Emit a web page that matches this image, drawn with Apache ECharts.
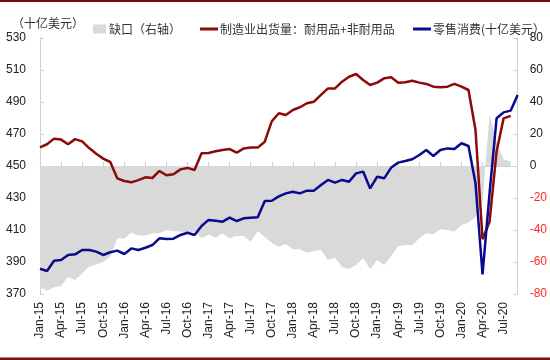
<!DOCTYPE html>
<html><head><meta charset="utf-8">
<script src="https://cdn.jsdelivr.net/npm/echarts@6/dist/echarts.min.js"></script>
<style>html,body{margin:0;padding:0;background:#fff}#c{width:550px;height:360px}</style>
</head><body><div id="c"></div>
<script>
var categories = ['Jan-15','Feb-15','Mar-15','Apr-15','May-15','Jun-15','Jul-15','Aug-15','Sep-15','Oct-15','Nov-15','Dec-15',
'Jan-16','Feb-16','Mar-16','Apr-16','May-16','Jun-16','Jul-16','Aug-16','Sep-16','Oct-16','Nov-16','Dec-16',
'Jan-17','Feb-17','Mar-17','Apr-17','May-17','Jun-17','Jul-17','Aug-17','Sep-17','Oct-17','Nov-17','Dec-17',
'Jan-18','Feb-18','Mar-18','Apr-18','May-18','Jun-18','Jul-18','Aug-18','Sep-18','Oct-18','Nov-18','Dec-18',
'Jan-19','Feb-19','Mar-19','Apr-19','May-19','Jun-19','Jul-19','Aug-19','Sep-19','Oct-19','Nov-19','Dec-19',
'Jan-20','Feb-20','Mar-20','Apr-20','May-20','Jun-20','Jul-20','Aug-20','Sep-20'];

var shipments = [461.7,463.6,467.1,466.5,463.6,466.8,465.4,461.2,457.7,454.6,452.5,442.3,
440.6,439.8,441.2,442.9,442.5,446.9,444.2,444.8,447.9,448.8,447.5,457.9,
458.1,459.2,460.0,460.6,458.3,461.0,461.5,461.5,465.2,478.0,483.0,481.9,
485.0,486.7,489.2,490.2,494.4,498.5,498.5,502.7,505.8,507.5,503.8,500.6,
502.1,504.8,505.4,502.1,502.3,503.3,502.1,501.3,499.6,499.2,499.6,501.3,
499.6,497.5,472.5,404.2,415.2,459.0,479.8,481.3,null];

var retail = [385.8,384.4,390.8,391.2,394.4,394.8,397.5,397.5,396.5,394.4,396.1,397.1,
395.0,398.5,397.5,398.9,400.6,404.8,404.4,404.6,406.9,408.3,406.9,412.5,
416.3,415.8,415.2,417.7,415.6,417.3,417.7,417.9,428.1,428.3,431.0,432.9,
433.9,432.9,434.6,434.6,438.1,441.3,439.6,441.3,440.2,445.4,446.5,436.0,
443.3,442.3,449.0,452.1,453.1,454.2,456.9,460.0,456.3,460.0,461.0,460.6,
464.2,462.5,439.2,382.3,433.0,479.8,483.5,484.6,494.4];

var gap = [-75.8,-77.9,-75.8,-75.0,-69.2,-71.3,-67.1,-62.9,-61.5,-59.8,-56.7,-45.2,
-45.4,-41.5,-43.5,-43.5,-42.1,-42.1,-40.0,-40.6,-41.0,-41.5,-41.0,-45.0,
-43.0,-44.8,-42.0,-45.2,-43.8,-43.8,-47.3,-40.6,-44.4,-48.0,-50.4,-48.8,
-52.1,-52.1,-54.2,-53.1,-52.5,-58.8,-57.3,-62.9,-64.4,-61.9,-57.7,-64.4,
-58.8,-61.9,-56.3,-50.0,-49.4,-49.4,-45.2,-42.1,-42.7,-39.6,-40.0,-41.0,
-36.9,-35.4,-31.7,-22.0,32.0,15.0,4.0,3.0,null];

var leftTicks = [370,390,410,430,450,470,490,510,530];

var nameGap = '缺口（右轴）';
var nameShip = '制造业出货量：耐用品+非耐用品';
var nameRetail = '零售消费(十亿美元）';

var FONT = '"Liberation Sans", Arial, sans-serif';
var CJK = '"Noto Sans CJK SC", sans-serif';
var RED = '#8b0a0a', BLUE = '#0a0a8c', GRAY = '#d9d9d9';

var chart = echarts.init(document.getElementById('c'));
chart.setOption({
  animation: false,
  textStyle: {fontFamily: FONT},
  graphic: [
    {type:'rect', shape:{x:0,y:0,width:550,height:2}, style:{fill:'#7a0c0c'}},
    {type:'rect', shape:{x:0,y:357.5,width:550,height:2.5}, style:{fill:'#7a0c0c'}},
    {type:'text', left: 12, top: 17, style:{text:'（十亿美元）', font:'12px "Noto Sans CJK SC"', fill:'#333'}}
  ],
  legend: [
    {data:[{name:nameGap, icon:'rect'}], left: 88, top: 18, itemWidth: 13, itemHeight: 9, itemGap: 3,
     textStyle:{fontFamily:CJK, fontSize:12, color:'#333', padding:[0,0,0,-2]}},
    {data:[{name:nameShip, icon:'rect'}], left: 195, top: 18, itemWidth: 18, itemHeight: 3,
     textStyle:{fontFamily:CJK, fontSize:12, color:'#333', padding:[0,0,0,-3]}},
    {data:[{name:nameRetail, icon:'rect'}], left: 408, top: 18, itemWidth: 18, itemHeight: 3,
     textStyle:{fontFamily:CJK, fontSize:12, color:'#333', padding:[0,0,0,-3]}}
  ],
  grid: {left: 40, right: 32, top: 38, bottom: 66, containLabel: false},
  xAxis: {
    type: 'category', data: categories, boundaryGap: false,
    axisLine: {lineStyle: {color: '#d0d0d0', width: 1}},
    axisTick: {inside: true, length: 4, interval: 2, lineStyle:{color:'#d0d0d0'}},
    axisLabel: {interval: 2, rotate: 90, margin: 8, fontSize: 12, color: '#222', fontFamily: FONT},
    splitLine: {show: false}
  },
  yAxis: [
    {type: 'value', min: 370, max: 530, position: 'left',
     axisLine: {show: true, lineStyle: {color: '#d0d0d0'}},
     axisTick: {show: true, inside: true, length: 4, customValues: leftTicks, lineStyle:{color:'#d0d0d0'}},
     axisLabel: {customValues: leftTicks, margin: 14, fontSize: 12, color: '#222', fontFamily: FONT},
     splitLine: {show: false}},
    {type: 'value', min: -80, max: 80, interval: 20, position: 'right',
     axisLine: {show: true, lineStyle: {color: '#d0d0d0'}},
     axisTick: {show: true, inside: true, length: 4, lineStyle:{color:'#d0d0d0'}},
     axisLabel: {margin: 12, fontSize: 12, fontFamily: FONT,
       color: function (v) { return Number(v) < 0 ? '#ff2a2a' : '#222'; }},
     splitLine: {show: false}}
  ],
  series: [
    {name: nameGap, type: 'line', yAxisIndex: 1, data: gap, symbol: 'none',
     lineStyle: {width: 0, color: GRAY}, itemStyle: {color: GRAY},
     areaStyle: {color: GRAY, opacity: 1}, z: 1},
    {name: nameShip, type: 'line', yAxisIndex: 0, data: shipments, symbol: 'none',
     lineStyle: {width: 2.5, color: RED}, itemStyle: {color: RED}, z: 3},
    {name: nameRetail, type: 'line', yAxisIndex: 0, data: retail, symbol: 'none',
     lineStyle: {width: 2.5, color: BLUE}, itemStyle: {color: BLUE}, z: 4}
  ]
});
</script></body></html>
